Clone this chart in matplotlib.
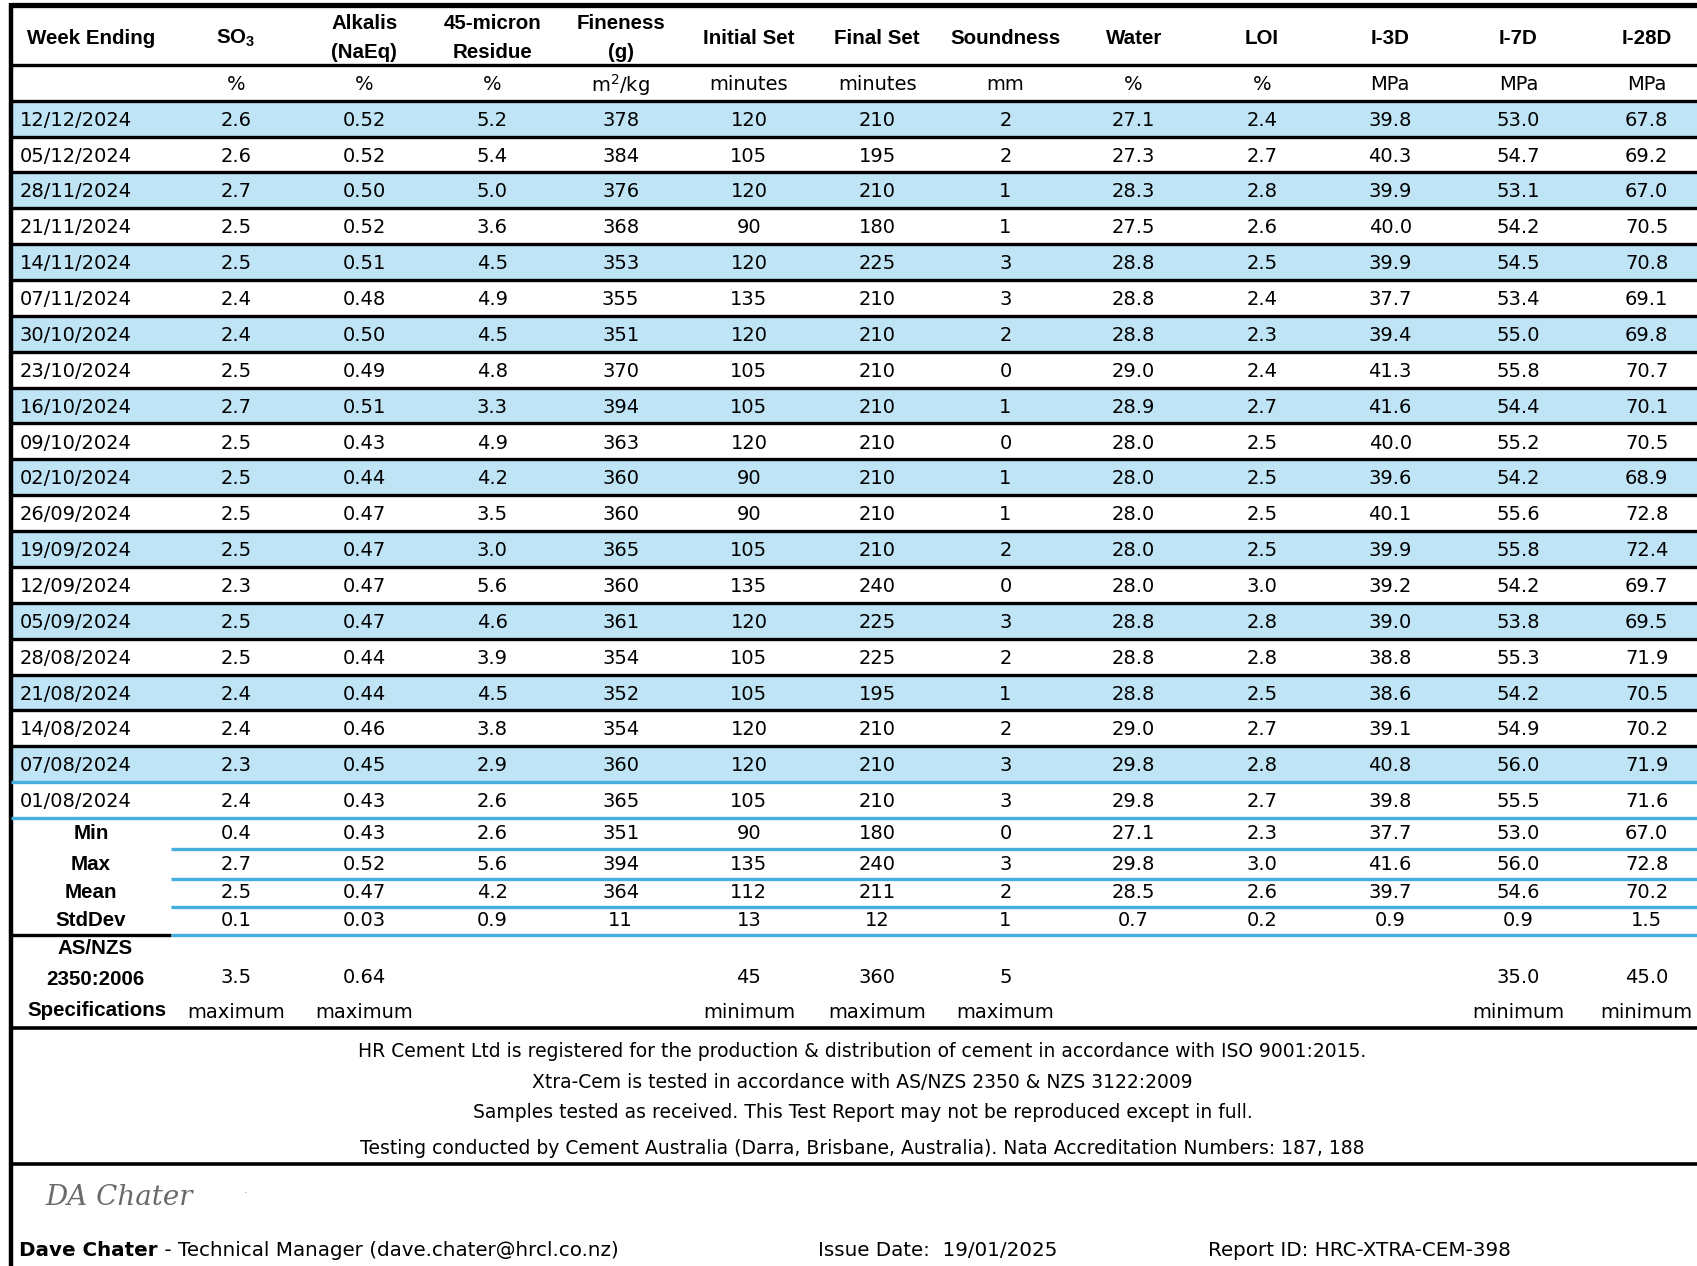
import numpy as np
import matplotlib
matplotlib.use("Agg")
import matplotlib.pyplot as plt

# ---- data ----
dates = ["12/12/2024", "05/12/2024", "28/11/2024", "21/11/2024", "14/11/2024",
         "07/11/2024", "30/10/2024", "23/10/2024", "16/10/2024", "09/10/2024",
         "02/10/2024", "26/09/2024", "19/09/2024", "12/09/2024", "05/09/2024",
         "28/08/2024", "21/08/2024", "14/08/2024", "07/08/2024", "01/08/2024"]
so3 = [2.6, 2.6, 2.7, 2.5, 2.5, 2.4, 2.4, 2.5, 2.7, 2.5, 2.5, 2.5, 2.5, 2.3, 2.5, 2.5, 2.4, 2.4, 2.3, 2.4]
alkalis = [0.52, 0.52, 0.50, 0.52, 0.51, 0.48, 0.50, 0.49, 0.51, 0.43, 0.44, 0.47, 0.47, 0.47, 0.47, 0.44, 0.44, 0.46, 0.45, 0.43]
residue = [5.2, 5.4, 5.0, 3.6, 4.5, 4.9, 4.5, 4.8, 3.3, 4.9, 4.2, 3.5, 3.0, 5.6, 4.6, 3.9, 4.5, 3.8, 2.9, 2.6]
fineness = [378, 384, 376, 368, 353, 355, 351, 370, 394, 363, 360, 360, 365, 360, 361, 354, 352, 354, 360, 365]
initial_set = [120, 105, 120, 90, 120, 135, 120, 105, 105, 120, 90, 90, 105, 135, 120, 105, 105, 120, 120, 105]
final_set = [210, 195, 210, 180, 225, 210, 210, 210, 210, 210, 210, 210, 210, 240, 225, 225, 195, 210, 210, 210]
soundness = [2, 2, 1, 1, 3, 3, 2, 0, 1, 0, 1, 1, 2, 0, 3, 2, 1, 2, 3, 3]
water = [27.1, 27.3, 28.3, 27.5, 28.8, 28.8, 28.8, 29.0, 28.9, 28.0, 28.0, 28.0, 28.0, 28.0, 28.8, 28.8, 28.8, 29.0, 29.8, 29.8]
loi = [2.4, 2.7, 2.8, 2.6, 2.5, 2.4, 2.3, 2.4, 2.7, 2.5, 2.5, 2.5, 2.5, 3.0, 2.8, 2.8, 2.5, 2.7, 2.8, 2.7]
i3d = [39.8, 40.3, 39.9, 40.0, 39.9, 37.7, 39.4, 41.3, 41.6, 40.0, 39.6, 40.1, 39.9, 39.2, 39.0, 38.8, 38.6, 39.1, 40.8, 39.8]
i7d = [53.0, 54.7, 53.1, 54.2, 54.5, 53.4, 55.0, 55.8, 54.4, 55.2, 54.2, 55.6, 55.8, 54.2, 53.8, 55.3, 54.2, 54.9, 56.0, 55.5]
i28d = [67.8, 69.2, 67.0, 70.5, 70.8, 69.1, 69.8, 70.7, 70.1, 70.5, 68.9, 72.8, 72.4, 69.7, 69.5, 71.9, 70.5, 70.2, 71.9, 71.6]

headers = [["SO$_\\mathregular{3}$"], ["Alkalis", "(NaEq)"], ["45-micron", "Residue"], ["Fineness", "(g)"],
           ["Initial Set"], ["Final Set"], ["Soundness"], ["Water"], ["LOI"], ["I-3D"], ["I-7D"], ["I-28D"]]
units = ["%", "%", "%", "m$^\\mathregular{2}$/kg", "minutes", "minutes", "mm", "%", "%", "MPa", "MPa", "MPa"]
fmts = ["{:.1f}", "{:.2f}", "{:.1f}", "{:.0f}", "{:.0f}", "{:.0f}", "{:.0f}", "{:.1f}", "{:.1f}", "{:.1f}", "{:.1f}", "{:.1f}"]

stat_names = ["Min", "Max", "Mean", "StdDev"]
stat_min = [0.4, 0.43, 2.6, 351, 90, 180, 0, 27.1, 2.3, 37.7, 53.0, 67.0]
stat_max = [2.7, 0.52, 5.6, 394, 135, 240, 3, 29.8, 3.0, 41.6, 56.0, 72.8]
stat_mean = [2.5, 0.47, 4.2, 364, 112, 211, 2, 28.5, 2.6, 39.7, 54.6, 70.2]
stat_std = ["0.1", "0.03", "0.9", "11", "13", "12", "1", "0.7", "0.2", "0.9", "0.9", "1.5"]

spec_values = ["3.5", "0.64", "", "", "45", "360", "5", "", "", "", "35.0", "45.0"]
spec_kind = ["maximum", "maximum", "", "", "minimum", "maximum", "maximum", "", "", "", "minimum", "minimum"]

notes = ["HR Cement Ltd is registered for the production & distribution of cement in accordance with ISO 9001:2015.",
         "Xtra-Cem is tested in accordance with AS/NZS 2350 & NZS 3122:2009",
         "Samples tested as received. This Test Report may not be reproduced except in full.",
         "Testing conducted by Cement Australia (Darra, Brisbane, Australia). Nata Accreditation Numbers: 187, 188"]

# ---- layout ----
W, H = 1568, 1170
fig = plt.figure(figsize=(16.97, 12.66), dpi=100)
ax = fig.add_axes([0, 0, 1, 1])
ax.set_xlim(0, W)
ax.set_ylim(H, 0)
ax.axis("off")

BLUE_FILL = "#bfe4f5"
BLUE_LINE = "#45afe0"
L = 10  # left border
col_x = 218 + 118.5 * np.arange(12)
hdr_font = dict(family=["Liberation Sans", "DejaVu Sans"], fontweight="bold", fontsize=14.8)
txt_font = dict(family=["DejaVu Sans"], fontsize=14)
dy = 1.5  # small downward nudge for text baselines

row_top = 93
row_h = 33.15
n = len(dates)
row_c = row_top + row_h * (np.arange(n) + 0.5)

# alternating row fills
blue_rows = np.arange(0, n, 2)
ax.barh(row_c[blue_rows], W - L, height=row_h, left=L, color=BLUE_FILL, zorder=0)

# header
ax.text(84, 34 + dy, "Week Ending", ha="center", va="center", **hdr_font)
for x, h in zip(col_x, headers):
    if len(h) == 1:
        ax.text(x, 34 + dy, h[0], ha="center", va="center", **hdr_font)
    else:
        ax.text(x, 20 + dy, h[0], ha="center", va="center", **hdr_font)
        ax.text(x, 47 + dy, h[1], ha="center", va="center", **hdr_font)
for x, u in zip(col_x, units):
    ax.text(x, 77 + dy, u, ha="center", va="center", **txt_font)

# data rows
cols = [so3, alkalis, residue, fineness, initial_set, final_set, soundness, water, loi, i3d, i7d, i28d]
for i, d in enumerate(dates):
    ax.text(18, row_c[i] + dy, d, ha="left", va="center", **txt_font)
    for x, c, f in zip(col_x, cols, fmts):
        ax.text(x, row_c[i] + dy, f.format(c[i]), ha="center", va="center", **txt_font)

# stats rows
stat_y = [770, 799, 825, 851]
stat_rows = [[f.format(v) for v, f in zip(stat_min, fmts)],
             [f.format(v) for v, f in zip(stat_max, fmts)],
             [f.format(v) for v, f in zip(stat_mean, fmts)],
             stat_std]
for y, name, vals in zip(stat_y, stat_names, stat_rows):
    ax.text(84, y, name, ha="center", va="center", **hdr_font)
    for x, v in zip(col_x, vals):
        ax.text(x, y, v, ha="center", va="center", **txt_font)

# specification block
ax.text(88, 877, "AS/NZS", ha="center", va="center", **hdr_font)
ax.text(88, 905, "2350:2006", ha="center", va="center", **hdr_font)
ax.text(90, 934, "Specifications", ha="center", va="center", **hdr_font)
for x, v, k in zip(col_x, spec_values, spec_kind):
    ax.text(x, 903, v, ha="center", va="center", **txt_font)
    ax.text(x, 936, k, ha="center", va="center", **txt_font)

# footnotes
for y, t in zip([972, 1000, 1028, 1061], notes):
    ax.text(797, y, t, ha="center", va="center", family=["DejaVu Sans"], fontsize=13.5)

# signature + footer
ax.text(42, 1107, "DA Chater", ha="left", va="center", family=["DejaVu Serif"],
        fontstyle="italic", fontsize=20, color="#6a6a6a", fontweight="light")
ax.text(225, 1100, ".", ha="left", va="center", fontsize=8, color="#888888")
foot = dict(family=["DejaVu Sans"], fontsize=14.3)
t1 = ax.text(18, 1156, "Dave Chater", ha="left", va="center", fontweight="bold", **foot)
ax.annotate(" - Technical Manager (dave.chater@hrcl.co.nz)", xy=(1, 0.5), xycoords=t1,
            ha="left", va="center", **foot)
ax.text(756, 1156, "Issue Date:  19/01/2025", ha="left", va="center", **foot)
ax.text(1116, 1156, "Report ID: HRC-XTRA-CEM-398", ha="left", va="center", **foot)

# rules
ax.plot([L, W], [5, 5], color="black", lw=3.8, solid_capstyle="butt")
ax.plot([L, L], [3, H], color="black", lw=3.2, solid_capstyle="butt")
for y in [60, 93]:
    ax.plot([L, W], [y, y], color="black", lw=2.4, solid_capstyle="butt")
for i in range(1, n - 1):
    ax.plot([L, W], [row_top + row_h * i] * 2, color="black", lw=2.4, solid_capstyle="butt")
for y in [row_top + row_h * (n - 1), row_top + row_h * n]:
    ax.plot([L, W], [y, y], color=BLUE_LINE, lw=2.4, solid_capstyle="butt")
for y in [785, 812, 838]:
    ax.plot([158, W], [y, y], color=BLUE_LINE, lw=2.4, solid_capstyle="butt")
ax.plot([L, 158], [864, 864], color="black", lw=2.4, solid_capstyle="butt")
ax.plot([158, W], [864, 864], color=BLUE_LINE, lw=2.4, solid_capstyle="butt")
ax.plot([L, W], [950, 950], color="black", lw=2.6, solid_capstyle="butt")
ax.plot([L, W], [1076, 1076], color="black", lw=2.6, solid_capstyle="butt")

fig.savefig("out.png", dpi=100, facecolor="white")
